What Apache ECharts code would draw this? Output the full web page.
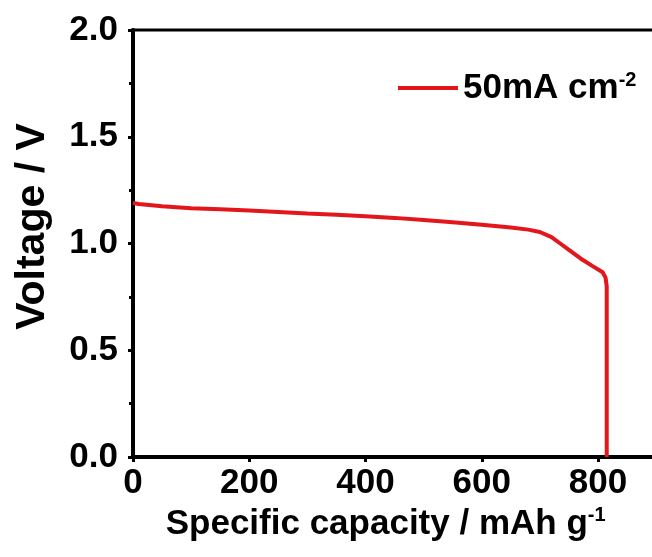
<!DOCTYPE html>
<html>
<head>
<meta charset="utf-8">
<script src="https://cdn.jsdelivr.net/npm/echarts@6/dist/echarts.min.js"></script>
<style>
html,body{margin:0;padding:0;background:#fff;}
#chart{width:652px;height:557px;}
</style>
</head>
<body>
<div id="chart"></div>
<script>
const capacity = [0, 10, 50, 100, 150, 200, 250, 300, 350, 400, 450, 500, 550, 600, 650, 680, 700, 720, 735, 750, 770, 790, 808, 813, 815, 815];
const voltage = [1.19, 1.185, 1.175, 1.165, 1.16, 1.155, 1.148, 1.14, 1.135, 1.128, 1.12, 1.11, 1.10, 1.088, 1.075, 1.065, 1.054, 1.03, 1.00, 0.97, 0.93, 0.895, 0.865, 0.84, 0.80, 0];
const seriesName = '50mA cm-2';
const xTicks = [0, 200, 400, 600, 800, 1000];
const yTicks = [0.0, 0.5, 1.0, 1.5, 2.0];

const font = 'Liberation Sans, Arial, sans-serif';
const chart = echarts.init(document.getElementById('chart'), null, {renderer: 'canvas'});
const data = capacity.map((c, i) => [c, voltage[i]]);
chart.setOption({
  backgroundColor: '#fff',
  animation: false,
  grid: {left: 133, top: 30, width: 581.25, height: 427, show: true, borderColor: '#000', borderWidth: 3,
    backgroundColor: 'transparent', containLabel: false, outerBoundsMode: 'none'},
  legend: {
    data: [seriesName],
    left: 398, top: 70, padding: 0,
    icon: 'rect', itemWidth: 60, itemHeight: 4, itemGap: 0,
    formatter: () => '{b|50mA cm}{s|-2}',
    textStyle: {
      padding: [0, 0, 0, 0],
      rich: {
        b: {fontFamily: font, fontWeight: 'bold', fontSize: 35, color: '#000'},
        s: {fontFamily: font, fontWeight: 'bold', fontSize: 20, color: '#000', verticalAlign: 'top', padding: [0, 0, 16, 0]}
      }
    }
  },
  xAxis: {
    type: 'value', min: xTicks[0], max: xTicks[xTicks.length - 1], interval: 200,
    name: '{b|Specific capacity / mAh g}{s|-1}', nameLocation: 'middle', nameGap: 45,
    nameTextStyle: {
      padding: [0, 76, 0, 0],
      rich: {
        b: {fontFamily: font, fontWeight: 'bold', fontSize: 35, color: '#000'},
        s: {fontFamily: font, fontWeight: 'bold', fontSize: 20, color: '#000', verticalAlign: 'top', padding: [0, 0, 16, 0]}
      }
    },
    axisLine: {show: true, onZero: false, lineStyle: {color: '#000', width: 4}},
    axisTick: {show: true, inside: false, length: 5, lineStyle: {color: '#000', width: 3}},
    axisLabel: {fontFamily: font, fontWeight: 'bold', fontSize: 35, color: '#000', margin: 9,
      formatter: v => String(v)},
    splitLine: {show: false}
  },
  yAxis: {
    type: 'value', min: yTicks[0], max: yTicks[yTicks.length - 1], interval: 0.5,
    name: 'Voltage / V', nameLocation: 'middle', nameGap: 80, nameRotate: 90,
    nameTextStyle: {fontFamily: font, fontWeight: 'bold', fontSize: 41, color: '#000', padding: [0, 0, 0, 34]},
    axisLine: {show: true, onZero: false, lineStyle: {color: '#000', width: 4}},
    axisTick: {show: true, inside: false, length: 5, lineStyle: {color: '#000', width: 3}},
    minorTick: {show: true, splitNumber: 2, length: 4, lineStyle: {color: '#000', width: 3}},
    axisLabel: {fontFamily: font, fontWeight: 'bold', fontSize: 35, color: '#000', margin: 15,
      formatter: v => v.toFixed(1)},
    splitLine: {show: false}
  },
  series: [{
    name: seriesName, type: 'line', data: data, showSymbol: false, symbol: 'none',
    lineStyle: {color: '#e3161b', width: 4}, itemStyle: {color: '#e3161b'}, clip: true
  }]
});
</script>
</body>
</html>
